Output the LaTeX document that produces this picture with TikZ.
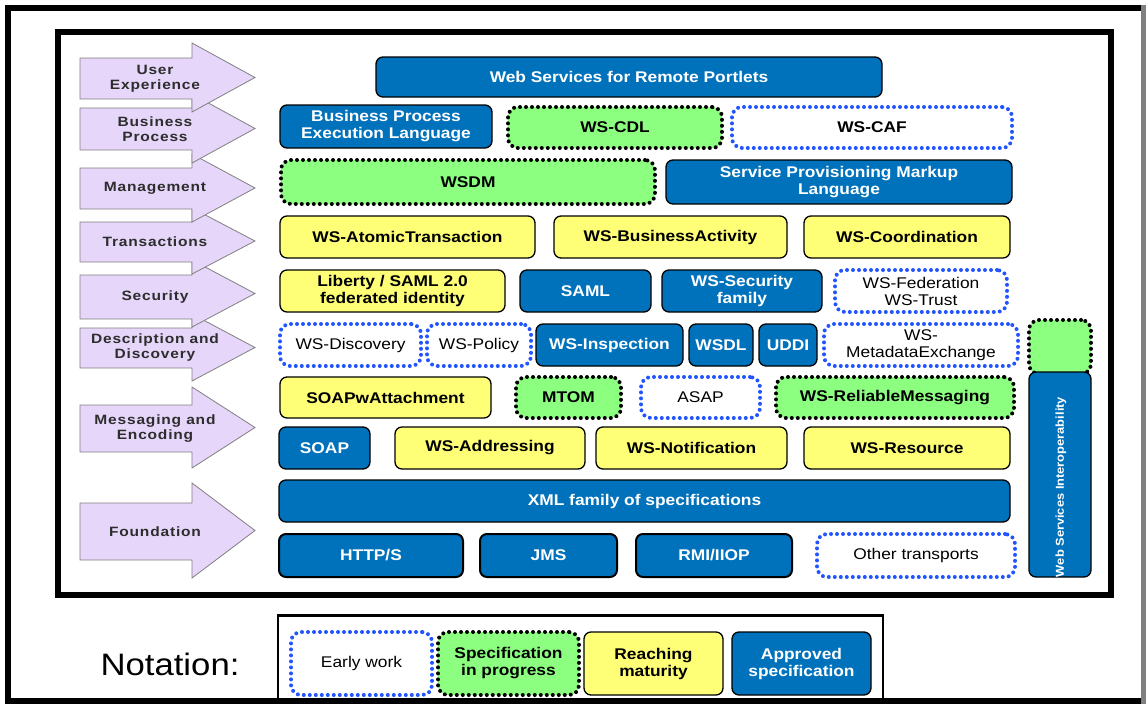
\documentclass[tikz,border=0pt]{standalone}
\usepackage{fontspec}
\setmainfont{Liberation Sans}[FakeStretch=1.12]
\newfontfamily\layerfont{Liberation Sans}[FakeStretch=1.15,LetterSpace=6]
\usetikzlibrary{positioning}

\definecolor{specblue}{RGB}{0,114,188}
\definecolor{specgreen}{RGB}{140,255,128}
\definecolor{specyellow}{RGB}{255,255,119}
\definecolor{dotblue}{RGB}{34,85,255}
\definecolor{layerlilac}{RGB}{230,214,250}
\definecolor{layergrey}{RGB}{45,45,45}

% name, body top, body bottom, head top, head bottom, label
\newcommand{\layerarrow}[6]{%
  \draw[layerarrow] (80,#2) -- (192,#2) -- (192,#4) -- (255,{(#4+#5)/2}) -- (192,#5) -- (192,#3) -- (80,#3) -- cycle;
  \node[layertext] (#1) at (155,{(#2+#3)/2}) {#6};}

\begin{document}
\begin{tikzpicture}[x=1pt,y=-1pt,
    spec/.style={rounded corners=7pt, inner sep=0pt, align=center, line width=1.3pt,
      font=\fontsize{15.5}{17}\selectfont\bfseries},
    approved/.style={spec, fill=specblue, draw=black, text=white},
    mature/.style={spec, fill=specyellow, draw=black},
    progress/.style={spec, rounded corners=10pt, fill=specgreen, draw=black,
      dash pattern=on 0pt off 6pt, line cap=round, line width=4pt},
    early/.style={spec, rounded corners=10pt, fill=white, draw=dotblue,
      dash pattern=on 0pt off 6pt, line cap=round, line width=4pt,
      font=\fontsize{15.5}{17}\selectfont},
    layerarrow/.style={fill=layerlilac, draw=gray, line width=0.8pt},
    layertext/.style={align=center, text=layergrey, inner sep=0pt,
      font=\layerfont\fontsize{13.5}{15}\selectfont\bfseries}]
  \useasboundingbox (0,0) rectangle (1146,704);

  % frames
  \draw[line width=6pt] (1141,8) -- (8,8) -- (8,701) -- (1141,701);
  \draw[line width=5pt, gray] (1143.5,5) -- (1143.5,704);
  \draw[line width=6pt] (57.5,31.5) rectangle (1111,595);

  % layers on the left, lowest first
  \layerarrow{foundation}{503}{560}{483}{578}{Foundation}
  \layerarrow{messaging}{405}{452}{387}{468}{Messaging and\\Encoding}
  \layerarrow{discovery}{328}{368}{314}{381}{Description and\\Discovery}
  \layerarrow{security}{275}{319}{260}{327}{Security}
  \layerarrow{transactions}{222}{262}{208}{274}{Transactions}
  \layerarrow{management}{168}{209}{154}{222}{Management}
  \layerarrow{business}{108}{150}{94}{163}{Business\\Process}
  \layerarrow{experience}{58}{99}{43}{112}{User\\Experience}

  % user experience
  \node[approved, minimum width=506, minimum height=40] (wsrp) at (629,77) {Web Services for Remote Portlets};

  % business process
  \node[approved, minimum width=212, minimum height=43] (bpel) at (386,126.5) {Business Process\\Execution Language};
  \node[progress, minimum width=214, minimum height=41] (wscdl) at (615,127.5) {WS-CDL};
  \node[early, minimum width=280, minimum height=41, font=\fontsize{15.5}{17}\selectfont\bfseries] (wscaf) at (872,127.5) {WS-CAF};

  % management
  \node[progress, minimum width=374, minimum height=44] (wsdm) at (468,182) {WSDM};
  \node[approved, minimum width=346, minimum height=44] (spml) at (839,182) {Service Provisioning Markup\\Language};

  % transactions
  \node[mature, minimum width=255, minimum height=42] (atomic) at (407.5,237) {WS-AtomicTransaction};
  \node[mature, minimum width=233, minimum height=42] (activity) at (670.5,237) {WS-BusinessActivity};
  \node[mature, minimum width=206, minimum height=42] (coord) at (907,237) {WS-Coordination};

  % security
  \node[mature, minimum width=225, minimum height=42] (liberty) at (392.5,291) {Liberty / SAML 2.0\\federated identity};
  \node[approved, minimum width=131, minimum height=42] (saml) at (585.5,291) {SAML};
  \node[approved, minimum width=160, minimum height=42] (wssec) at (742,291) {WS-Security\\family};
  \node[early, minimum width=172, minimum height=42] (wsfed) at (921,291) {WS-Federation\\WS-Trust};

  % description and discovery
  \node[early, minimum width=141, minimum height=42] (wsdisc) at (350.5,345) {WS-Discovery};
  \node[early, minimum width=104, minimum height=42] (wspol) at (479,345) {WS-Policy};
  \node[approved, minimum width=147, minimum height=42] (wsinsp) at (609.5,345) {WS-Inspection};
  \node[approved, minimum width=64, minimum height=42] (wsdl) at (721,345) {WSDL};
  \node[approved, minimum width=58, minimum height=42] (uddi) at (788,345) {UDDI};
  \node[early, minimum width=194, minimum height=42] (wsmex) at (921,345) {WS-\\MetadataExchange};

  % messaging and encoding
  \node[mature, minimum width=211, minimum height=41] (swa) at (385.5,397.5) {SOAPwAttachment};
  \node[progress, minimum width=105, minimum height=41] (mtom) at (568.5,397.5) {MTOM};
  \node[early, minimum width=119, minimum height=41] (asap) at (700.5,397.5) {ASAP};
  \node[progress, minimum width=238, minimum height=41] (wsrm) at (895,397.5) {WS-ReliableMessaging};
  \node[approved, minimum width=91, minimum height=42] (soap) at (324.5,448) {SOAP};
  \node[mature, minimum width=190, minimum height=42] (wsaddr) at (490,448) {WS-Addressing};
  \node[mature, minimum width=191, minimum height=42] (wsnotif) at (691.5,448) {WS-Notification};
  \node[mature, minimum width=206, minimum height=42] (wsres) at (907,448) {WS-Resource};

  % foundation
  \node[approved, minimum width=731, minimum height=42] (xml) at (644.5,501) {XML family of specifications};
  \node[approved, minimum width=184, minimum height=43, line width=2pt] (http) at (371,555.5) {HTTP/S};
  \node[approved, minimum width=137, minimum height=43, line width=2pt] (jms) at (548.5,555.5) {JMS};
  \node[approved, minimum width=156, minimum height=43, line width=2pt] (rmi) at (714,555.5) {RMI/IIOP};
  \node[early, minimum width=198, minimum height=43] (othertr) at (916,555.5) {Other transports};

  % interoperability column
  \node[progress, minimum width=62, minimum height=54] (wsitop) at (1060,347) {};
  \node[approved, minimum width=62, minimum height=205] (wsi) at (1060,474.5) {};
  \node[rotate=90, text=white, font=\fontsize{11.5}{13}\selectfont\bfseries] (wsilabel) at (1061,487) {Web Services Interoperability};

  % notation
  \draw[line width=2.5pt] (278,704) -- (278,615.5) -- (883,615.5) -- (883,704);
  \node[font=\fontsize{31}{31}\selectfont] (notation) at (170,664) {Notation:};
  \node[early, minimum width=141, minimum height=63] (early) at (361.5,663.5) {Early work};
  \node[progress, minimum width=141, minimum height=63] (inprogress) at (508.5,663.5) {Specification\\in progress};
  \node[mature, minimum width=139, minimum height=63] (maturity) at (653.5,663.5) {Reaching\\maturity};
  \node[approved, minimum width=139, minimum height=63] (approved) at (801.5,663.5) {Approved\\specification};
\end{tikzpicture}
\end{document}
